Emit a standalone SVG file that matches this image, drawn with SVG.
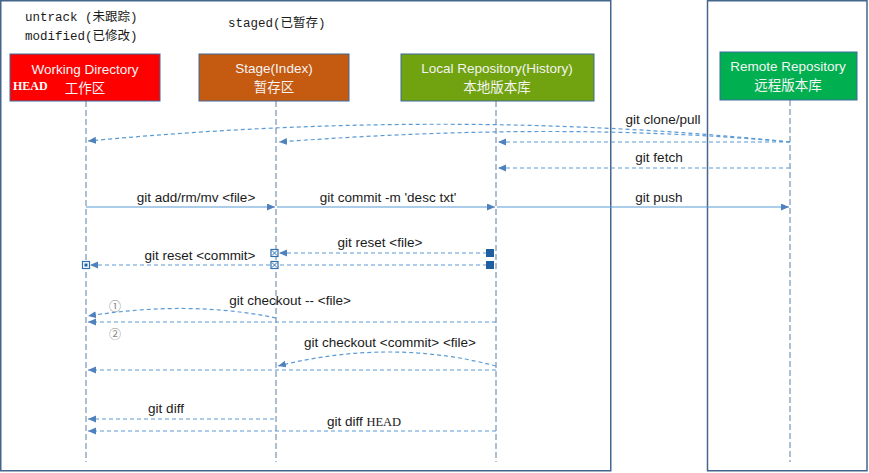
<svg xmlns="http://www.w3.org/2000/svg" width="869" height="473" viewBox="0 0 869 473">
<defs>
<style>
.frame{fill:none;stroke:#44668c;stroke-width:1.5}
.life{stroke:#5b7ea6;stroke-width:1;stroke-dasharray:6,3}
.dash{fill:none;stroke:#5b9bd5;stroke-width:1.2;stroke-dasharray:4,3}
.solid{fill:none;stroke:#5b9bd5;stroke-width:1.2}
.lbl{font-family:"Liberation Sans","Noto Sans CJK SC",sans-serif;font-size:13.5px;fill:#1a1a1a;text-anchor:middle}
.box{font-family:"Liberation Sans","Noto Sans CJK SC",sans-serif;font-size:13.5px;fill:#f4f4f4;text-anchor:middle}
.mono{font-family:"Liberation Mono","Noto Sans CJK SC",monospace;font-size:12.5px;fill:#1a1a1a}
.circ{font-family:"Noto Sans CJK SC","DejaVu Sans",sans-serif;font-size:12px;fill:#888}
</style>
<marker id="ah" markerWidth="9" markerHeight="8" refX="8" refY="3.5" orient="auto" markerUnits="userSpaceOnUse">
<path d="M0,0 L8,3.5 L0,7 z" fill="#4f81bd"/>
</marker>
</defs>
<rect width="869" height="473" fill="#ffffff"/>
<rect class="frame" x="0.75" y="0.75" width="610" height="470"/>
<rect class="frame" x="707.5" y="0.75" width="159.5" height="470"/>

<g id="top-labels">
<text class="mono" x="25" y="21">untrack (未跟踪)</text>
<text class="mono" x="25" y="40">modified(已修改)</text>
<text class="mono" x="228" y="27">staged(已暂存)</text>
</g>

<g id="lifelines">
<line class="life" x1="86" y1="101" x2="86" y2="462"/>
<line class="life" x1="276" y1="101" x2="276" y2="462"/>
<line class="life" x1="496" y1="101" x2="496" y2="462"/>
<line class="life" x1="790" y1="100" x2="790" y2="462"/>
</g>

<g id="working-directory">
<rect x="10" y="54" width="150" height="47" fill="#ff0000" stroke="#3d6a99" stroke-width="1"/>
<text class="box" x="85" y="74">Working Directory</text>
<text class="box" x="85" y="93">工作区</text>
<text x="13" y="90" font-family="Liberation Serif,serif" font-weight="bold" font-size="12px" fill="#ffffff">HEAD</text>
</g>

<g id="stage">
<rect x="199" y="54" width="150" height="47" fill="#c55a11" stroke="#3d6a99" stroke-width="1"/>
<text class="box" x="274" y="73">Stage(Index)</text>
<text class="box" x="274" y="92">暂存区</text>
</g>

<g id="local-repository">
<rect x="401" y="54" width="193" height="47" fill="#70a30f" stroke="#3d6a99" stroke-width="1"/>
<text class="box" x="497" y="73">Local Repository(History)</text>
<text class="box" x="497" y="92">本地版本库</text>
</g>

<g id="remote-repository">
<rect x="720" y="52" width="137" height="48" fill="#00b050" stroke="#3d6a99" stroke-width="1"/>
<text class="box" x="788" y="71">Remote Repository</text>
<text class="box" x="788" y="90">远程版本库</text>
</g>

<g id="connectors">
<path class="dash" d="M790,142 Q450,107 88,141" marker-end="url(#ah)"/>
<path class="dash" d="M790,142 Q560,121 279,142" marker-end="url(#ah)"/>
<path class="dash" d="M790,142 L498,142" marker-end="url(#ah)"/>
<text class="lbl" x="663" y="124">git clone/pull</text>
<path class="dash" d="M790,168 L498,168" marker-end="url(#ah)"/>
<text class="lbl" x="659" y="162">git fetch</text>
<path class="solid" d="M86,207 L275,207" marker-end="url(#ah)"/>
<text class="lbl" x="196" y="202">git add/rm/mv &lt;file&gt;</text>
<path class="solid" d="M277,207 L495,207" marker-end="url(#ah)"/>
<text class="lbl" x="388" y="202">git commit -m 'desc txt'</text>
<path class="solid" d="M497,207 L789,207" marker-end="url(#ah)"/>
<text class="lbl" x="659" y="202">git push</text>
<path class="dash" d="M487,253 L279,253" marker-end="url(#ah)"/>
<rect x="486" y="249" width="8" height="8" fill="#1f5f9f"/>
<rect x="271" y="249.5" width="7" height="7" fill="#fff" stroke="#2e6fb0" stroke-width="1.2"/>
<path d="M272,250.5 L277,255.5 M277,250.5 L272,255.5" stroke="#2e6fb0" stroke-width="1"/>
<text class="lbl" x="380" y="247">git reset &lt;file&gt;</text>
<path class="dash" d="M487,265 L90,265" marker-end="url(#ah)"/>
<rect x="486" y="261" width="8" height="8" fill="#1f5f9f"/>
<rect x="271" y="261.5" width="7" height="7" fill="#fff" stroke="#2e6fb0" stroke-width="1.2"/>
<path d="M272,262.5 L277,267.5 M277,262.5 L272,267.5" stroke="#2e6fb0" stroke-width="1"/>
<rect x="82.5" y="261.5" width="7" height="7" fill="#fff" stroke="#2e6fb0" stroke-width="1.2"/>
<rect x="84.5" y="263.5" width="3" height="3" fill="#1f5f9f"/>
<text class="lbl" x="200" y="260">git reset &lt;commit&gt;</text>
<path class="dash" d="M276,318 Q190,300 88,316" marker-end="url(#ah)"/>
<path class="dash" d="M496,322 L88,322" marker-end="url(#ah)"/>
<text class="lbl" x="290" y="305">git checkout -- &lt;file&gt;</text>
<text class="circ" x="109" y="311">①</text>
<text class="circ" x="109" y="339">②</text>
<path class="dash" d="M496,366 Q390,338 278,366" marker-end="url(#ah)"/>
<path class="dash" d="M496,370 L88,370" marker-end="url(#ah)"/>
<text class="lbl" x="390" y="347">git checkout &lt;commit&gt; &lt;file&gt;</text>
<path class="dash" d="M274,419 L88,419" marker-end="url(#ah)"/>
<text class="lbl" x="166" y="413">git diff</text>
<path class="dash" d="M496,431 L88,431" marker-end="url(#ah)"/>
<text class="lbl" x="364" y="426">git diff <tspan font-family="Liberation Serif,serif" font-size="12.5px">HEAD</tspan></text>
</g>
</svg>
